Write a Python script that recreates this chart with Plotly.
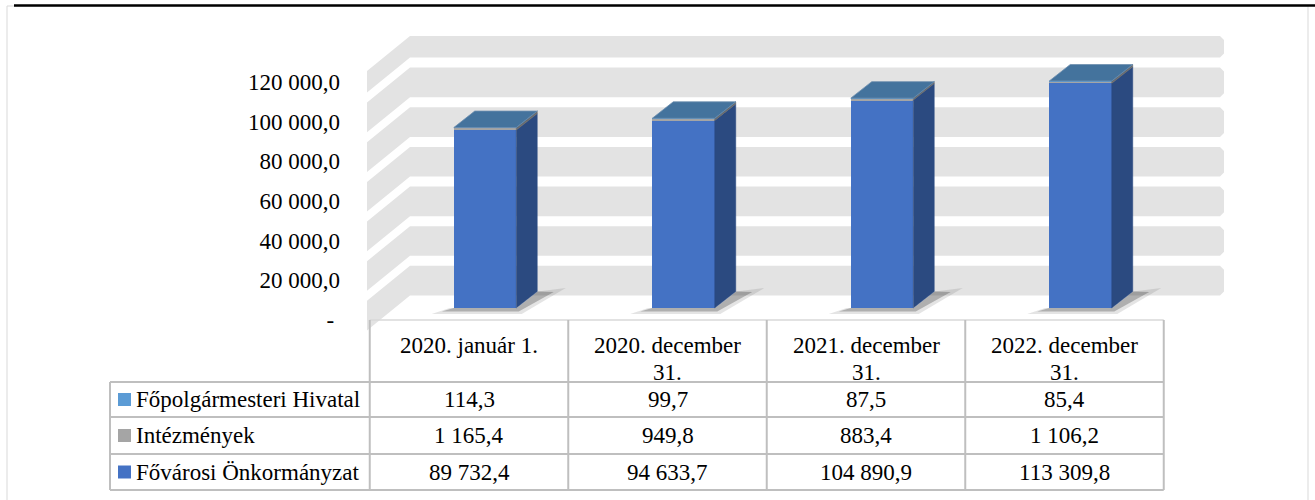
import plotly.graph_objects as go

# ---------------- data ----------------
categories = ["2020. január 1.", "2020. december 31.", "2021. december 31.", "2022. december 31."]
category_labels = ["2020. január 1.", "2020. december<br>31.", "2021. december<br>31.", "2022. december<br>31."]
series_names = ["Főpolgármesteri Hivatal", "Intézmények", "Fővárosi Önkormányzat"]
hivatal = [114.3, 99.7, 87.5, 85.4]
intezmenyek = [1165.4, 949.8, 883.4, 1106.2]
onkormanyzat = [89732.4, 94633.7, 104890.9, 113309.8]
y_ticks = [0, 20000, 40000, 60000, 80000, 100000, 120000]


def fmt(v):
    if v == 0:
        return "-\u00a0"
    s = f"{v:,.1f}"
    return s.replace(",", " ").replace(".", ",")


# ---------------- geometry / style ----------------
W, H = 1315, 500
FONT = "Liberation Serif"
FS = 23
COL0_PX = 469.0          # centre of first category column
COL_W_PX = 198.5         # column width
K = 39.65 / 20000        # px per value unit
AXIS_ZERO_PX = 320.0     # y of value 0 on the label axis
FRONT_ZERO_PX = 308.0    # y of value 0 at the bar front plane
WALL_ZERO_PX = 300.5     # y of value 0 on the back wall
WALL_TOP_PX = 36.0
HEADER_LINE_PX = [345, 372]


def xu(px):
    return (px - COL0_PX) / COL_W_PX


def dxu(dpx):
    return dpx / COL_W_PX


def dyu(dpx):
    return dpx / K


def py(p):
    return 1 - p / H


def pxf(p):
    return p / W


BAR_OFF = dxu(-15.25)
BAR_W = dxu(62.5)
DEPTH_X = dxu(21)
DEPTH_Y = dyu(16.5)

C_ONK = "#4472C4"
C_INT = "#A5A5A5"
C_HIV = "#5B9BD5"
SIDE = {"onk": "#2B4A80", "int": "#6B6B6B", "hiv": "#3A6794"}
TOP_COLOR = "#44739D"
BAND = "#E3E3E3"
LINE = "#BFBFBF"

fig = go.Figure()
x_idx = list(range(len(categories)))

# ---------------- shadows (kept outside the front/side faces) ----------------
for pts, col in [
    ([(-22, -6), (68, -6), (112, 20), (84, 16.5), (63, 0), (-4, 0)], "rgba(90,90,90,0.16)"),
    ([(-12, -3.5), (65, -3.5), (100, 16), (84, 16.5), (63, 0), (0, 0)], "rgba(40,40,40,0.28)"),
]:
    xs, ys = [], []
    for i in x_idx:
        for (a, b) in pts:
            xs.append(i + BAR_OFF + dxu(a))
            ys.append(dyu(b))
        xs.append(None)
        ys.append(None)
    fig.add_trace(go.Scatter(x=xs, y=ys, yaxis="y2", fill="toself", fillcolor=col,
                             mode="none", hoverinfo="skip", showlegend=False))

# ---------------- stacked bars (front faces) ----------------
stack = [("onk", onkormanyzat, C_ONK, series_names[2]),
         ("int", intezmenyek, C_INT, series_names[1]),
         ("hiv", hivatal, C_HIV, series_names[0])]
for key, vals, col, name in stack:
    fig.add_trace(go.Bar(x=x_idx, y=vals, yaxis="y2", name=name, marker_color=col,
                         marker_line_width=0, offset=BAR_OFF, width=BAR_W,
                         showlegend=False))

# ---------------- side faces ----------------
base = [0.0] * len(x_idx)
for key, vals, col, name in stack:
    xs, ys = [], []
    for i in x_idx:
        r = i + BAR_OFF + BAR_W
        b = base[i]
        t = base[i] + vals[i]
        xs += [r, r + DEPTH_X, r + DEPTH_X, r, r, None]
        ys += [b, b + DEPTH_Y, t + DEPTH_Y, t, b, None]
    fig.add_trace(go.Scatter(x=xs, y=ys, yaxis="y2", fill="toself", fillcolor=SIDE[key],
                             mode="lines", line=dict(width=0.5, color=SIDE[key]),
                             hoverinfo="skip", showlegend=False))
    base = [base[i] + vals[i] for i in x_idx]

# ---------------- top faces ----------------
xs, ys = [], []
for i in x_idx:
    l = i + BAR_OFF
    r = l + BAR_W
    t = base[i]
    xs += [l, r, r + DEPTH_X, l + DEPTH_X, l, None]
    ys += [t, t, t + DEPTH_Y, t + DEPTH_Y, t, None]
fig.add_trace(go.Scatter(x=xs, y=ys, yaxis="y2", fill="toself", fillcolor=TOP_COLOR,
                         mode="lines", line=dict(width=0.8, color="#6F8FAE"),
                         hoverinfo="skip", showlegend=False))

# ---------------- shapes ----------------
shapes = []
# outer frame
shapes.append(dict(type="rect", xref="paper", yref="paper", x0=pxf(7), x1=pxf(1308),
                   y0=py(6), y1=py(520), line=dict(color="#D9D9D9", width=1),
                   fillcolor="rgba(0,0,0,0)", layer="below"))

# back-wall bands (between gridlines)
shift = dyu(AXIS_ZERO_PX - WALL_ZERO_PX)
half_gap = dyu(5)
top_units = dyu(AXIS_ZERO_PX - WALL_TOP_PX)
drop = dyu(35)
rc = dxu(4)          # small chamfer at the right end
rcy = dyu(4)
XC, XE, XR = xu(410), xu(367), xu(1224)
for j, t in enumerate(y_ticks):
    lo = t + shift + half_gap
    hi = (y_ticks[j + 1] + shift - half_gap) if j + 1 < len(y_ticks) else top_units
    path = (f"M {XE},{hi - drop} L {XC},{hi} L {XR - rc},{hi} L {XR},{hi - rcy} "
            f"L {XR},{lo + rcy} L {XR - rc},{lo} "
            f"L {XC},{lo} L {XE},{lo - drop} Z")
    shapes.append(dict(type="path", xref="x", yref="y", path=path, fillcolor=BAND,
                       line=dict(width=0), layer="below"))

# white cover for the table area
shapes.append(dict(type="rect", xref="x", yref="paper", x0=xu(300), x1=xu(1240),
                   y0=py(499), y1=py(320), fillcolor="white", line=dict(width=0),
                   layer="below"))

# table
ROW_LINES = [382, 417, 454, 490]
x_left = xu(110)
x_first = -0.5
x_last = len(categories) - 0.5
shapes.append(dict(type="line", xref="x", yref="paper", x0=x_first, x1=x_last,
                   y0=py(320), y1=py(320), line=dict(color="#D9D9D9", width=1.5)))
for k in range(len(categories) + 1):
    xv = k - 0.5
    shapes.append(dict(type="line", xref="x", yref="paper", x0=xv, x1=xv,
                       y0=py(320), y1=py(ROW_LINES[-1]), line=dict(color=LINE, width=2)))
shapes.append(dict(type="line", xref="x", yref="paper", x0=x_left, x1=x_left,
                   y0=py(ROW_LINES[0]), y1=py(ROW_LINES[-1]), line=dict(color=LINE, width=2)))
for rl in ROW_LINES:
    shapes.append(dict(type="line", xref="x", yref="paper", x0=x_left, x1=x_last,
                       y0=py(rl), y1=py(rl), line=dict(color=LINE, width=2)))

# top rule
shapes.append(dict(type="line", xref="paper", yref="paper", x0=pxf(14), x1=1,
                   y0=py(5.5), y1=py(5.5), line=dict(color="black", width=2.5)))

# ---------------- annotations ----------------
ann = []
for i, lab in enumerate(category_labels):
    for li, part in enumerate(lab.split("<br>")):
        ann.append(dict(x=i, y=py(HEADER_LINE_PX[li]), xref="x", yref="paper", text=part,
                        showarrow=False, xanchor="center", yanchor="middle",
                        font=dict(family=FONT, size=FS, color="black")))

rows = [(series_names[0], hivatal, C_HIV), (series_names[1], intezmenyek, C_INT),
        (series_names[2], onkormanyzat, C_ONK)]
for r, (name, vals, col) in enumerate(rows):
    yc = (ROW_LINES[r] + ROW_LINES[r + 1]) / 2
    shapes.append(dict(type="rect", xref="x", yref="paper", x0=xu(118), x1=xu(131),
                       y0=py(yc + 6.5), y1=py(yc - 6.5), fillcolor=col, line=dict(width=0)))
    ann.append(dict(x=xu(134), y=py(yc), xref="x", yref="paper", text=name, showarrow=False,
                    xanchor="left", yanchor="middle",
                    font=dict(family=FONT, size=FS, color="black")))
    for i, v in enumerate(vals):
        ann.append(dict(x=i, y=py(yc), xref="x", yref="paper", text=fmt(v), showarrow=False,
                        xanchor="center", yanchor="middle",
                        font=dict(family=FONT, size=FS, color="black")))

fig.update_layout(
    width=W, height=H, autosize=False,
    margin=dict(l=0, r=0, t=0, b=0, pad=0),
    paper_bgcolor="white", plot_bgcolor="rgba(0,0,0,0)",
    barmode="stack", bargap=0,
    showlegend=False,
    shapes=shapes, annotations=ann,
    xaxis=dict(domain=[0, 1], range=[xu(0), xu(W)], visible=False, fixedrange=True),
    yaxis=dict(domain=[0, 1], range=[-(H - AXIS_ZERO_PX) / K, AXIS_ZERO_PX / K],
               anchor="free", position=pxf(340), side="left",
               tickvals=y_ticks, ticktext=[fmt(t) for t in y_ticks],
               showgrid=False, zeroline=False, showline=False, ticks="",
               tickfont=dict(family=FONT, size=FS, color="black"), fixedrange=True),
    yaxis2=dict(overlaying="y", range=[-(H - FRONT_ZERO_PX) / K, FRONT_ZERO_PX / K],
                visible=False, fixedrange=True),
)

fig.write_html("out.html", config={"displayModeBar": False},
               post_script="document.body.style.margin='0';document.body.style.overflow='hidden';")
